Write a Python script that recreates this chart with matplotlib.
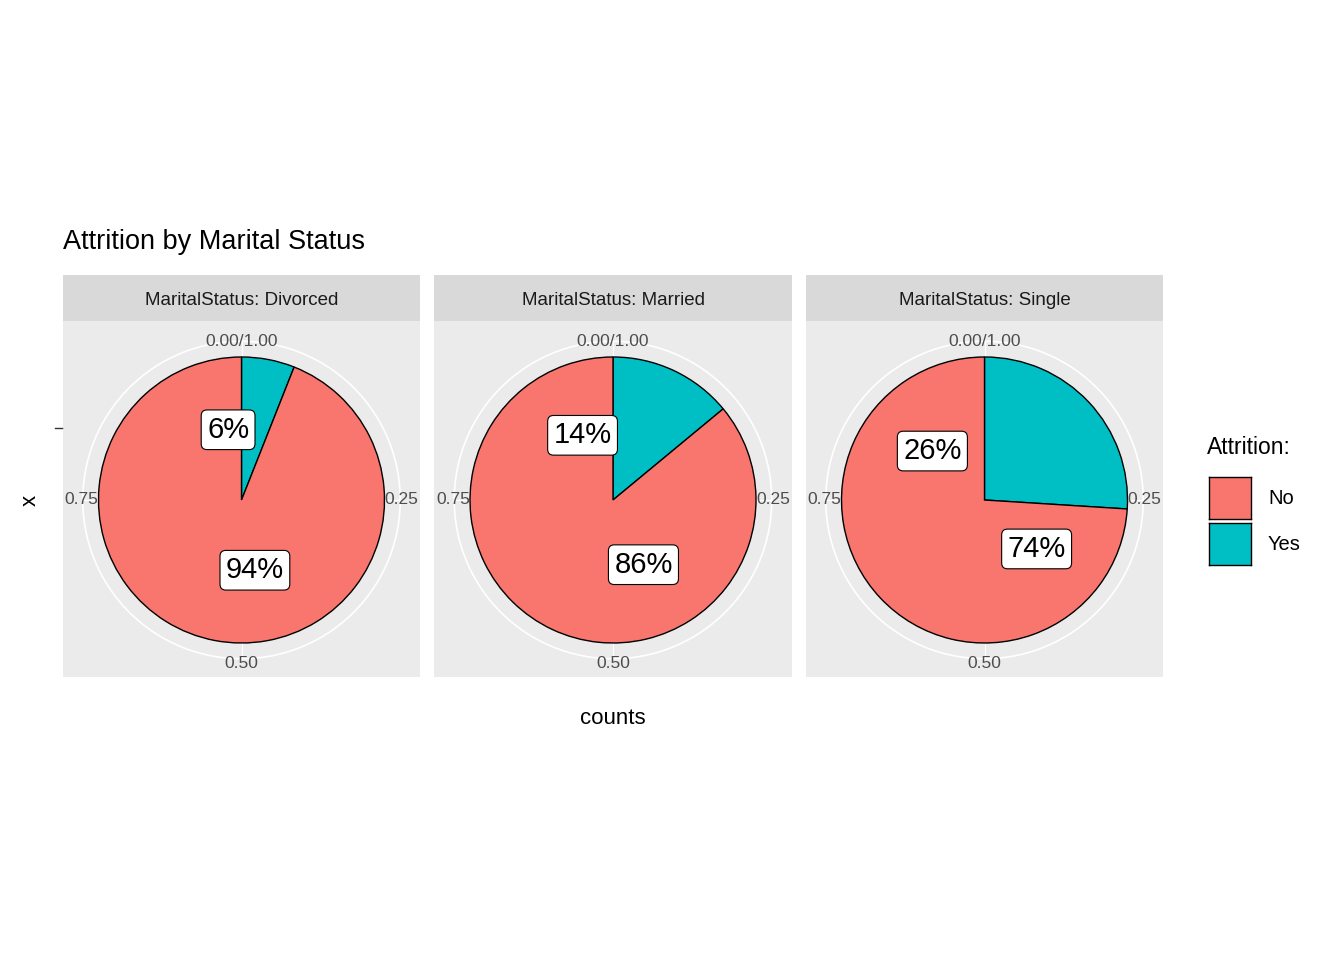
import matplotlib
matplotlib.use("Agg")
import matplotlib.pyplot as plt
import numpy as np

statuses = ["Divorced", "Married", "Single"]
yes_share = [0.06, 0.14, 0.26]
no_share = [0.94, 0.86, 0.74]
yes_labels = ["6%", "14%", "26%"]
no_labels = ["94%", "86%", "74%"]
legend_levels = ["No", "Yes"]
theta_ticks = ["0.00/1.00", "0.25", "0.50", "0.75"]

C_NO, C_YES = "#F8766D", "#00BFC4"
W, H = 1344, 960
fig = plt.figure(figsize=(13.44, 9.6), dpi=100)
plt.rcParams['font.family'] = ['Liberation Sans', 'DejaVu Sans']

R = 143.0
panels_x = [(63, 420), (434, 792), (806, 1163)]
py0, py1 = 321, 677
sy0 = 275

def fr(x0, y0, x1, y1):
    return [x0 / W, 1 - y1 / H, (x1 - x0) / W, (y1 - y0) / H]

for i, st in enumerate(statuses):
    x0, x1 = panels_x[i]
    cx = (x0 + x1) / 2
    cy = 500
    ax = fig.add_axes(fr(x0, py0, x1, py1))
    ax.set_facecolor("#EBEBEB")
    for s in ax.spines.values():
        s.set_visible(False)
    t = np.linspace(0, 2 * np.pi, 400)
    ax.plot(1.11 * np.cos(t), 1.11 * np.sin(t), color="white", lw=1.2, zorder=1)
    for a in [0, 0.25, 0.5, 0.75]:
        ang = np.pi / 2 - 2 * np.pi * a
        ax.plot([0, 1.11 * np.cos(ang)], [0, 1.11 * np.sin(ang)], color="white", lw=0.8, zorder=1)
    ax.pie([yes_share[i], no_share[i]], colors=[C_YES, C_NO], startangle=90,
           counterclock=False, radius=1.0, center=(0, 0), frame=True,
           wedgeprops=dict(edgecolor="black", linewidth=1.0, zorder=2))
    ax.set_xlim((x0 - cx) / R, (x1 - cx) / R)
    ax.set_ylim(-(py1 - cy) / R, (cy - py0) / R)
    ax.set_aspect("auto")
    ax.set_xticks([]); ax.set_yticks([])
    for a, lab in zip([0, 0.25, 0.5, 0.75], theta_ticks):
        ang = np.pi / 2 - 2 * np.pi * a
        r = 1.12 if a in (0.25, 0.75) else 1.11
        ax.text(r * np.cos(ang), r * np.sin(ang) * (1.0 if a == 0 else 1.03),
                lab, ha="center", va="center", fontsize=12.5, color="#4D4D4D",
                clip_on=True, zorder=3)
    for frac, lab in [(1 - yes_share[i] / 2, yes_labels[i]), (0.5 - yes_share[i] / 2, no_labels[i])]:
        ang = np.pi / 2 - 2 * np.pi * frac
        ax.text(0.5 * np.cos(ang), 0.5 * np.sin(ang), lab, ha="center", va="center",
                fontsize=21, zorder=5,
                bbox=dict(boxstyle="round,pad=0.2,rounding_size=0.2", fc="white", ec="black", lw=0.8))
    sax = fig.add_axes(fr(x0, sy0, x1, py0))
    sax.set_facecolor("#D9D9D9")
    for s in sax.spines.values():
        s.set_visible(False)
    sax.set_xticks([]); sax.set_yticks([])
    sax.text(0.5, 0.45, f"MaritalStatus: {st}", ha="center", va="center",
             fontsize=13.5, color="#1A1A1A", transform=sax.transAxes)

fig.text(63 / W, 1 - 242 / H, "Attrition by Marital Status", fontsize=19.5, ha="left", va="center")
fig.text(613 / W, 1 - 718 / H, "counts", fontsize=16, ha="center", va="center")
fig.text(30 / W, 1 - 500 / H, "x", fontsize=16, ha="center", va="center", rotation=90)
fig.add_artist(plt.Line2D([55 / W, 62 / W], [1 - 428 / H, 1 - 428 / H], color="#333333", lw=1))

fig.text(1207 / W, 1 - 448 / H, "Attrition:", fontsize=16.5, ha="left", va="center")
for j, (lev, col) in enumerate(zip(legend_levels, [C_NO, C_YES])):
    y0 = 477 + j * 46
    lax = fig.add_axes(fr(1209, y0, 1251, y0 + 42))
    lax.set_facecolor(col)
    for s in lax.spines.values():
        s.set_color("black"); s.set_linewidth(1)
    lax.set_xticks([]); lax.set_yticks([])
    fig.text(1268 / W, 1 - (y0 + 22) / H, lev, fontsize=14.5, ha="left", va="center")

fig.savefig("out.png", dpi=100, facecolor="white")
